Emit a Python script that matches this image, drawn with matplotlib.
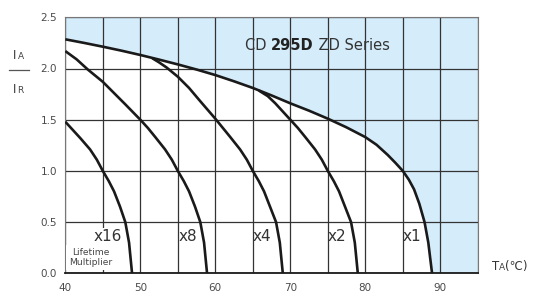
""" Derating curves, CD 295D ZD Series """

import numpy as np
import matplotlib.pyplot as plt
from matplotlib.lines import Line2D

# Curves: temperature [degC] and ratio IA/IR
x1_t = [40, 42.5, 45, 47.5, 50, 52.5, 55, 57.5, 60, 62.5, 65, 67.5, 70, 72.5, 75,
        77.5, 80, 81.5, 83, 84, 85, 85.8, 86.5, 87.2, 87.9, 88.4, 88.9]
x1_v = [2.285, 2.25, 2.213, 2.174, 2.132, 2.087, 2.04, 1.99, 1.936, 1.875, 1.81, 1.737,
        1.66, 1.588, 1.51, 1.425, 1.33, 1.255, 1.155, 1.08, 1.0, 0.915, 0.82, 0.68, 0.5,
        0.3, 0.0]

x2_t = [65.8, 67, 68, 69, 70, 71, 72, 73.3, 74.2, 75, 75.8, 76.5, 77.3, 78.1, 78.6, 79.0]
x2_v = [1.785, 1.73, 1.66, 1.58, 1.50, 1.42, 1.33, 1.21, 1.11, 1.0, 0.9, 0.8, 0.65, 0.5,
        0.3, 0.0]

x4_t = [51.6, 52.5, 53.5, 55, 56.5, 58, 60, 61, 62, 63.3, 64.2, 65, 65.8, 66.5, 67.3,
        68.1, 68.6, 69.0]
x4_v = [2.10, 2.06, 2.01, 1.92, 1.81, 1.68, 1.51, 1.42, 1.33, 1.21, 1.11, 1.0, 0.9, 0.8,
        0.65, 0.5, 0.3, 0.0]

x8_t = [40, 41.5, 43, 45, 46.5, 48, 50, 51, 52, 53.3, 54.2, 55, 55.8, 56.5, 57.3, 58.0,
        58.5, 58.9]
x8_v = [2.17, 2.09, 1.99, 1.87, 1.76, 1.65, 1.50, 1.42, 1.33, 1.21, 1.11, 1.0, 0.9, 0.8,
        0.65, 0.5, 0.3, 0.0]

x16_t = [40, 41, 42, 43.3, 44.2, 45, 45.8, 46.5, 47.3, 48.0, 48.5, 48.9]
x16_v = [1.48, 1.40, 1.32, 1.21, 1.11, 1.0, 0.9, 0.8, 0.65, 0.5, 0.3, 0.0]

curves = [(x1_t, x1_v), (x2_t, x2_v), (x4_t, x4_v), (x8_t, x8_v), (x16_t, x16_v)]
mult_labels = ['x1', 'x2', 'x4', 'x8', 'x16']
mult_pos = [87.5, 77.5, 67.5, 57.6, 47.6]

t_min, t_max = 40, 95
r_min, r_max = 0.0, 2.5

fig = plt.figure(figsize=(5.36, 2.94), dpi=100)
ax = fig.add_axes([65.3 / 536, 1 - 273.3 / 294, 412.5 / 536, 256 / 294])

# light blue area outside the x1 curve
fill_t = [t_min] + x1_t + [t_max, t_max]
fill_v = [r_max] + x1_v + [r_min, r_max]
ax.fill(fill_t, fill_v, color='#d5ecfa', lw=0, zorder=0)

for t, v in curves:
    ax.plot(t, v, color='#1a1a1a', lw=1.9, solid_capstyle='butt',
            solid_joinstyle='round', zorder=4)

ax.set_xlim(t_min, t_max)
ax.set_ylim(r_min, r_max)
ax.set_xticks(np.arange(40, 91, 10))
ax.set_xticks(np.arange(45, 96, 10), minor=True)
ax.set_yticks(np.arange(0, 2.51, 0.5))
ax.set_yticklabels([f'{v:.1f}' for v in np.arange(0, 2.51, 0.5)])
ax.grid(True, which='both', color='#333333', lw=0.9, zorder=1)
ax.set_axisbelow(True)
ax.tick_params(which='both', length=0, labelsize=7.5, labelcolor='#4a4a4a')
ax.tick_params(axis='x', pad=7)
ax.tick_params(axis='y', pad=6)
for side in ['top', 'left', 'right']:
    ax.spines[side].set_color('#777777')
    ax.spines[side].set_linewidth(0.8)
ax.spines['bottom'].set_color('#1a1a1a')
ax.spines['bottom'].set_linewidth(1.3)

# multiplier labels
for lab, t in zip(mult_labels, mult_pos):
    bb = dict(facecolor='white', edgecolor='none', pad=0.5) if lab == 'x16' else None
    ax.text(t, 0.36, lab, ha='right', va='center', fontsize=11, color='#333333',
            bbox=bb, zorder=3)
ax.text(43.4, 0.155, 'Lifetime\nMultiplier', ha='center', va='center', fontsize=6.6,
        color='#444444', linespacing=1.15, zorder=3,
        bbox=dict(facecolor='white', edgecolor='none', pad=2))

# series title, three pieces chained one after the other
t1 = fig.text(245 / 536, 1 - 45 / 294, 'CD ', ha='left', va='center', fontsize=10.5,
              color='#333333')
t2 = fig.add_artist(plt.Annotation('295D', xy=(1, 0.5), xycoords=t1, ha='left',
                                   va='center', fontsize=10.5, color='#222222',
                                   fontweight='bold'))
t3 = fig.add_artist(plt.Annotation(' ZD Series', xy=(1, 0.5), xycoords=t2, ha='left',
                                   va='center', fontsize=10.5, color='#333333'))

# y axis label: IA over IR
fig.text(13 / 536, 1 - 59 / 294, 'I', ha='left', va='baseline', fontsize=8.5, color='#333333')
fig.text(17.5 / 536, 1 - 59 / 294, 'A', ha='left', va='baseline', fontsize=6.5, color='#444444')
fig.add_artist(Line2D([9 / 536, 29 / 536], [1 - 70 / 294, 1 - 70 / 294],
                      color='#555555', lw=0.9))
fig.text(13 / 536, 1 - 93 / 294, 'I', ha='left', va='baseline', fontsize=8.5, color='#333333')
fig.text(17.5 / 536, 1 - 93 / 294, 'R', ha='left', va='baseline', fontsize=6.5, color='#444444')

# x axis label: TA(degC)
fig.text(492 / 536, 1 - 270 / 294, 'T', ha='left', va='baseline', fontsize=8.5, color='#333333')
fig.text(499 / 536, 1 - 270 / 294, 'A', ha='left', va='baseline', fontsize=6.5, color='#444444')
fig.text(505 / 536, 1 - 270 / 294, '(℃)', ha='left', va='baseline', fontsize=8.5, color='#333333')

fig.savefig('out.png', dpi=100)
